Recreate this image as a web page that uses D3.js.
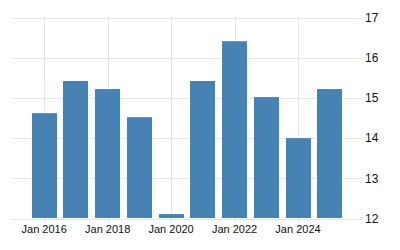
<!DOCTYPE html>
<html>
<head>
<meta charset="utf-8">
<script src="https://cdn.jsdelivr.net/npm/d3@7"></script>
<style>
  html, body { margin: 0; padding: 0; background: #fff; }
  svg { display: block; }
</style>
</head>
<body>
<svg id="chart" width="400" height="250"></svg>
<script>
// yearly values, bars centred on Jan of each year
const years = [2016, 2017, 2018, 2019, 2020, 2021, 2022, 2023, 2024, 2025];
const values = [14.62, 15.42, 15.22, 14.52, 12.11, 15.42, 16.41, 15.02, 14.0, 15.22];
const yTicks = [12, 13, 14, 15, 16, 17];
const xTickYears = [2016, 2018, 2020, 2022, 2024];

const cfg = {
  left: 12.5,
  right: 361.5,
  top: 17.5,
  bottom: 218.5,
  barWidth: 25,
  barColor: "#4682b4",
  gridColor: "#cccccc",
  textColor: "#111",
};

const svg = d3.select("#chart");

const x = d3
  .scaleTime()
  .domain([new Date(2015, 0, 1), new Date(2026, 0, 1)])
  .range([cfg.left, cfg.right]);

const y = d3
  .scaleLinear()
  .domain([12, 17])
  .range([cfg.bottom, cfg.top]);

// horizontal grid
svg
  .append("g")
  .selectAll("line")
  .data(yTicks)
  .join("line")
  .attr("x1", cfg.left)
  .attr("x2", cfg.right)
  .attr("y1", (d) => Math.round(y(d)) + 0.5)
  .attr("y2", (d) => Math.round(y(d)) + 0.5)
  .attr("stroke", cfg.gridColor)
  .attr("stroke-dasharray", "1,1");

// vertical grid
svg
  .append("g")
  .selectAll("line")
  .data(xTickYears)
  .join("line")
  .attr("x1", (d) => Math.round(x(new Date(d, 0, 1))) + 0.5)
  .attr("x2", (d) => Math.round(x(new Date(d, 0, 1))) + 0.5)
  .attr("y1", cfg.top)
  .attr("y2", cfg.bottom + 4)
  .attr("stroke", cfg.gridColor)
  .attr("stroke-dasharray", "1,1");

// bars
svg
  .append("g")
  .selectAll("rect")
  .data(years)
  .join("rect")
  .attr("x", (d) => Math.round(x(new Date(d, 0, 1)) - cfg.barWidth / 2))
  .attr("width", cfg.barWidth)
  .attr("y", (d, i) => y(values[i]))
  .attr("height", (d, i) => cfg.bottom - 0.5 - y(values[i]))
  .attr("fill", cfg.barColor);

// y labels on right
svg
  .append("g")
  .selectAll("text")
  .data(yTicks)
  .join("text")
  .attr("x", 365)
  .attr("y", (d) => y(d))
  .attr("dy", "0.35em")
  .attr("font-family", "Arial, 'Liberation Sans', sans-serif")
  .attr("font-size", 12)
  .attr("fill", cfg.textColor)
  .text((d) => d);

// x labels
svg
  .append("g")
  .selectAll("text")
  .data(xTickYears)
  .join("text")
  .attr("x", (d) => x(new Date(d, 0, 1)))
  .attr("y", 233)
  .attr("text-anchor", "middle")
  .attr("font-family", "Arial, 'Liberation Sans', sans-serif")
  .attr("font-size", 11)
  .attr("fill", cfg.textColor)
  .text((d) => `Jan ${d}`);
</script>
</body>
</html>
